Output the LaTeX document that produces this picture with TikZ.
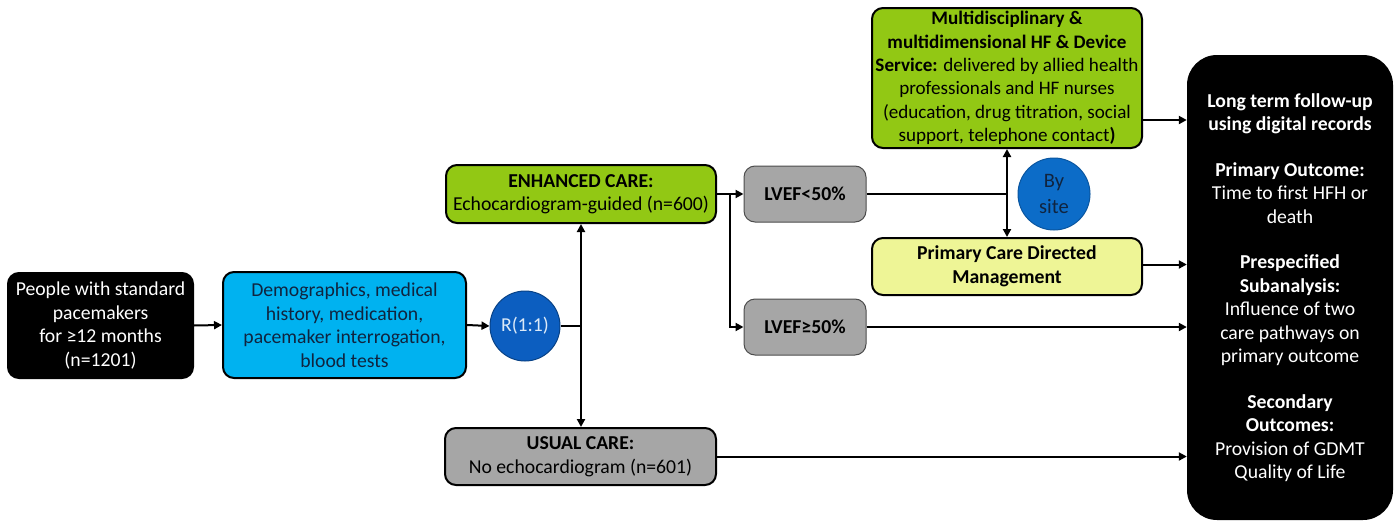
\documentclass[tikz,border=0pt]{standalone}
\usepackage{fontspec}
\setmainfont{Carlito}
\usetikzlibrary{arrows.meta}
\definecolor{hfgreen}{RGB}{146,200,20}
\definecolor{cyanbox}{RGB}{0,178,240}
\definecolor{circblue}{RGB}{12,94,192}
\definecolor{sitblue}{RGB}{12,108,200}
\definecolor{graybox}{RGB}{166,166,166}
\definecolor{yelbox}{RGB}{238,245,150}
\definecolor{navytxt}{RGB}{16,36,63}
\definecolor{lighttxt}{RGB}{220,234,248}
\tikzset{
  txt/.style={font=\fontsize{19.7}{23.5}\selectfont},
  box/.style={rectangle, rounded corners=11pt, draw=black, line width=2pt, align=center,
    inner sep=0pt, txt},
  lvbox/.style={rectangle, rounded corners=11pt, draw=gray!60!black, line width=1pt, fill=graybox,
    align=center, inner sep=0pt, font=\fontsize{19.7}{23.5}\selectfont\bfseries,
    minimum width=122pt, minimum height=56pt},
  conn/.style={line width=2pt, -{Triangle[length=8pt,width=8pt]}},
  plain/.style={line width=2pt},
}
\begin{document}
\begin{tikzpicture}[x=1pt,y=-1pt]
\useasboundingbox (0,0) rectangle (1400,522);
% nodes
\node[box, fill=black, text=white, minimum width=185pt, minimum height=105pt] (pop) at (100.5,325.5)
  {People with standard\\pacemakers\\for ≥12 months\\(n=1201)};
\node[box, fill=cyanbox, text=navytxt, minimum width=243pt, minimum height=106pt] (base) at (344.5,325)
  {Demographics, medical\\history, medication,\\pacemaker interrogation,\\blood tests};
\node[circle, fill=circblue, draw=circblue!70!black, line width=1pt, minimum size=70pt, inner sep=0pt,
  text=lighttxt, txt] (rand) at (525,326) {R(1:1)};
\node[box, fill=hfgreen, minimum width=270pt, minimum height=58pt] (enh) at (581,194)
  {\textbf{ENHANCED CARE:}\\Echocardiogram-guided (n=600)};
\node[box, fill=graybox, minimum width=271pt, minimum height=57pt] (usual) at (580.5,456.5)
  {\textbf{USUAL CARE:}\\No echocardiogram (n=601)};
\node[lvbox] (lv1) at (805,194) {LVEF<50\%};
\node[lvbox] (lv2) at (805,327) {LVEF≥50\%};
\node[box, fill=hfgreen, minimum width=270pt, minimum height=140pt, font=\fontsize{19.1}{23.4}\selectfont] (multi) at (1007,78)
  {\textbf{Multidisciplinary \&}\\\textbf{multidimensional HF \& Device}\\\textbf{Service:} delivered by allied health\\professionals and HF nurses\\(education, drug titration, social\\support, telephone contact\textbf{)}};
\node[box, fill=yelbox, minimum width=270pt, minimum height=57pt, font=\fontsize{19.7}{23.5}\selectfont\bfseries] (prim) at (1007,266.5)
  {Primary Care Directed\\Management};
\node[circle, fill=sitblue, draw=sitblue!80!black, line width=1pt, minimum size=72pt, inner sep=0pt,
  text=navytxt, align=center, font=\fontsize{20.5}{26}\selectfont] (site) at (1054,194) {By\\site};
\node[rectangle, rounded corners=30pt, fill=black, text=white, minimum width=206pt, minimum height=465pt,
  align=center, inner sep=0pt, txt] (out) at (1290,287.5)
  {\textbf{Long term follow-up}\\\textbf{using digital records}\\[22pt]
   \textbf{Primary Outcome:}\\Time to first HFH or\\death\\[22pt]
   \textbf{Prespecified}\\\textbf{Subanalysis:}\\Influence of two\\care pathways on\\primary outcome\\[22pt]
   \textbf{Secondary}\\\textbf{Outcomes:}\\Provision of GDMT\\Quality of Life};
% junctions
\coordinate (j1) at (581,326);
\coordinate (j2) at (730,194);
\coordinate (j3) at (1007,194);
\coordinate (m1) at ([yshift=-42pt]multi.east);
% connectors
\draw[conn] (pop.east) -- (base.west);
\draw[conn] (base.east) -- (rand.west);
\draw[plain] (rand.east) -- (j1);
\draw[conn] (j1) -- (j1 |- enh.south);
\draw[conn] (j1) -- (j1 |- usual.north);
\draw[conn] (enh.east) -- (lv1.west);
\draw[conn] (j2) |- (lv2.west);
\draw[plain] (lv1.east) -- (j3);
\draw[line width=2pt, {Triangle[length=8pt,width=8pt]}-{Triangle[length=8pt,width=8pt]}] (multi.south) -- (prim.north);
\draw[conn] (m1) -- (m1 -| out.west);
\draw[conn] ([yshift=2pt]prim.east) -- ([yshift=2pt]prim.east -| out.west);
\draw[conn] (lv2.east) -- (lv2.east -| out.west);
\draw[conn] (usual.east) -- (usual.east -| out.west);
\end{tikzpicture}
\end{document}
